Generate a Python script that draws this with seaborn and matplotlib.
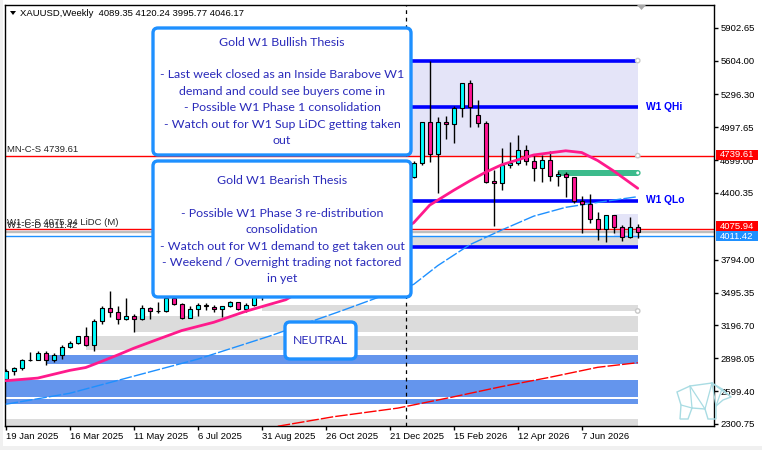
import numpy as np
import matplotlib
matplotlib.use("Agg")
import matplotlib.pyplot as plt
from matplotlib.patches import FancyBboxPatch, Rectangle, Polygon, Circle
import seaborn as sns

# weekly XAUUSD candles
opens = [2710, 2780, 2807, 2880, 2886, 2946, 2880, 2925, 2998, 3037,
         3098, 3019, 3234, 3352, 3316, 3252, 3280, 3252, 3352, 3325,
         3327, 3445, 3389, 3267, 3343, 3385, 3361, 3343, 3373, 3407,
         3343, 3380, 3452, 3540, 3590, 3640, 3685, 3760, 3886, 4018,
         4250, 4113, 4002, 4000, 4085, 4065, 4218, 4198, 4300, 4338,
         4420, 4548, 4676, 5043, 4752, 5043, 5025, 5170, 5397, 5106,
         5034, 4509, 4490, 4655, 4670, 4791, 4691, 4625, 4700, 4555,
         4573, 4543, 4327, 4300, 4161, 4070, 4197, 4088, 4003, 4089.35]
highs = [2800, 2819, 2894, 2955, 2964, 2964, 2946, 3016, 3055, 3100,
         3182, 3252, 3376, 3507, 3376, 3448, 3298, 3382, 3361, 3414,
         3470, 3480, 3403, 3373, 3398, 3398, 3385, 3375, 3421, 3412,
         3398, 3480, 3560, 3600, 3675, 3705, 3790, 3895, 4060, 4380,
         4270, 4160, 4050, 4245, 4130, 4225, 4265, 4350, 4380, 4550,
         4560, 4690, 5046, 5598, 5094, 5100, 5191, 5400, 5427, 5245,
         5055, 4609, 4806, 4861, 4927, 4837, 4746, 4746, 4785, 4603,
         4594, 4548, 4373, 4391, 4225, 4200, 4200, 4109, 4179, 4120.24]
lows = [2690, 2746, 2792, 2873, 2880, 2840, 2867, 2889, 2989, 3025,
        3012, 2967, 3207, 3270, 3207, 3250, 3134, 3246, 3252, 3314,
        3318, 3380, 3252, 3261, 3285, 3337, 3321, 3270, 3361, 3340,
        3321, 3373, 3430, 3510, 3575, 3625, 3670, 3750, 3880, 4010,
        4005, 3930, 3930, 3990, 4030, 4040, 4160, 4180, 4270, 4310,
        4400, 4536, 4655, 4685, 4403, 4888, 4852, 5094, 5003, 5003,
        4488, 4103, 4428, 4627, 4655, 4655, 4509, 4503, 4512, 4464,
        4367, 4312, 4034, 4130, 3973, 3952, 4034, 3967, 3988, 3995.77]
closes = [2782, 2807, 2880, 2884, 2946, 2880, 2925, 2998, 3037, 3098,
          3019, 3234, 3352, 3316, 3252, 3280, 3252, 3352, 3325, 3329,
          3443, 3389, 3267, 3343, 3380, 3370, 3343, 3373, 3409, 3343,
          3380, 3452, 3540, 3590, 3640, 3685, 3760, 3886, 4018, 4250,
          4113, 4002, 4000, 4085, 4065, 4218, 4198, 4300, 4338, 4420,
          4548, 4676, 5043, 4752, 5043, 5025, 5170, 5397, 5179, 5034,
          4503, 4490, 4655, 4670, 4791, 4687, 4625, 4700, 4555, 4573,
          4543, 4327, 4300, 4161, 4070, 4197, 4088, 4003, 4089.35, 4046.17]

# moving averages (read at a few bars)
ma_fast_idx = [0, 4, 8, 10, 12, 14, 16, 19, 22, 26, 30, 35, 40, 45, 51, 53,
               56, 58, 60, 62, 66, 70, 72, 74, 76, 79]
ma_fast_val = [2694, 2718, 2788, 2814, 2870, 2928, 2989, 3070, 3150, 3225,
               3325, 3430, 3640, 3870, 4130, 4290, 4425, 4510, 4590, 4657,
               4746, 4784, 4768, 4695, 4600, 4443]
ma_slow_idx = [0, 8, 15, 24, 33, 42, 51, 54, 58, 62, 66, 70, 74, 79]
ma_slow_val = [2480, 2580, 2716, 2890, 3100, 3330, 3570, 3740, 3930, 4064,
               4190, 4270, 4315, 4367]
ma_long_idx = [34, 41, 49, 56, 62, 68, 74, 79]
ma_long_val = [2280, 2367, 2445, 2548, 2641, 2725, 2816, 2858]

# zones: start bar, low, high
zone_start = [50, 76, 69, 50, 32, 16, 10, 5, -1, -1, -1]
zone_low = [4739.61, 4012, 4557, 3907, 3328, 3139, 2973, 2849, 2549, 2482, 2285]
zone_high = [5604.0, 4209, 4609, 4011.42, 3382, 3282, 3100, 2925, 2701, 2531, 2346]
zone_colors = ['#E4E4F8', '#E4E4F8', '#3CBB8C', '#DCDCDC', '#DCDCDC', '#DCDCDC',
               '#DCDCDC', '#6495ED', '#6495ED', '#6495ED', '#DCDCDC']

quarter_levels = [5604.0, 5179.0, 4325.0, 3907.0]
level_mn_cs = 4739.61
level_w1_cs = 4075.94
level_w1_cd = 4011.42
gray_levels = [4057.6, 4043.0]

price_ticks = [2300.75, 2599.40, 2898.05, 3196.70, 3495.35, 3794.00,
               4400.35, 4699.00, 4997.65, 5296.30, 5604.00, 5902.65]
date_tick_idx = [0, 8, 16, 24, 32, 40, 48, 56, 64, 72]
date_labels = ['19 Jan 2025', '16 Mar 2025', '11 May 2025', '6 Jul 2025',
               '31 Aug 2025', '26 Oct 2025', '21 Dec 2025', '15 Feb 2026',
               '12 Apr 2026', '7 Jun 2026']
year_sep_idx = 50

bull_lines = ['Gold W1 Bullish Thesis', '',
              '- Last week closed as an Inside Barabove W1',
              'demand and could see buyers come in',
              '- Possible W1 Phase 1 consolidation',
              '- Watch out for W1 Sup LiDC getting taken',
              'out']
bear_lines = ['Gold W1 Bearish Thesis', '',
              '- Possible W1 Phase 3 re-distribution',
              'consolidation',
              '- Watch out for W1 demand to get taken out',
              '- Weekend / Overnight trading not factored',
              'in yet']

sns.set_theme(style="white")
plt.rcParams['font.family'] = ['Liberation Sans', 'DejaVu Sans']

W, H = 762, 450
FS = 6.8
fig = plt.figure(figsize=(W / 100, H / 100), dpi=100, facecolor='white')


def px_rect(x0, y0, x1, y1):
    return [x0 / W, 1 - y1 / H, (x1 - x0) / W, (y1 - y0) / H]


ax = fig.add_axes(px_rect(5, 5, 714, 426))
ax.set_facecolor('white')
ax.set_xlim(-0.09, -0.09 + 709 / 8)
ax.set_ylim(2282.5, 6109)
last = len(opens) - 1

# zones
for s, lo, hi, col in zip(zone_start, zone_low, zone_high, zone_colors):
    ax.fill_between([s, last], lo, hi, color=col, lw=0, zorder=1)

# horizontal levels
ax.axhline(level_mn_cs, color='#FF0000', lw=1, zorder=2)
ax.axhline(level_w1_cs, color='#FF0000', lw=1, zorder=2)
for g in gray_levels:
    ax.axhline(g, color='#BEBEBE', lw=1, zorder=2)
ax.axhline(level_w1_cd, color='#1E90FF', lw=1, zorder=2)
ax.hlines(quarter_levels, year_sep_idx, last, color='#0000FF', lw=2.6, zorder=3)

# year separator
ax.axvline(year_sep_idx, color='black', lw=0.9, ls=(0, (3, 3)), zorder=2)

# moving averages
sns.lineplot(x=ma_long_idx, y=ma_long_val, ax=ax, color='#FF0000', lw=1,
             zorder=3, estimator=None)
ax.lines[-1].set_linestyle((0, (9, 1.5)))
sns.lineplot(x=ma_slow_idx, y=ma_slow_val, ax=ax, color='#1E90FF', lw=1,
             zorder=3, estimator=None)
ax.lines[-1].set_linestyle((0, (9, 1.5)))

# candles
idx = np.arange(len(opens))
o = np.array(opens, dtype=float)
c = np.array(closes, dtype=float)
up = c >= o
body_lo = np.minimum(o, c)
body_h = np.maximum(np.abs(c - o), 1)
ax.vlines(idx, lows, highs, color='black', lw=1, zorder=4)
ax.bar(idx[up], body_h[up], bottom=body_lo[up], width=0.55, color='#00FFFF',
       edgecolor='black', lw=0.8, zorder=5)
ax.bar(idx[~up], body_h[~up], bottom=body_lo[~up], width=0.55, color='#FF1493',
       edgecolor='black', lw=0.8, zorder=5)

sns.lineplot(x=ma_fast_idx, y=ma_fast_val, ax=ax, color='#FF1A8C', lw=2,
             zorder=6, estimator=None)

# axes
for sp in ax.spines.values():
    sp.set_color('black')
    sp.set_linewidth(1)
ax.yaxis.tick_right()
ax.set_yticks(price_ticks)
ax.set_yticklabels([f'{v:.2f}' for v in price_ticks], fontsize=FS)
ax.set_xticks(date_tick_idx)
ax.set_xticklabels(date_labels, fontsize=FS, ha='left')
ax.tick_params(axis='both', which='both', direction='out', length=3, width=1,
               color='black', labelcolor='black', pad=1.5,
               bottom=True, right=True, left=False, top=False)
ax.set_xlabel('')
ax.set_ylabel('')
ax.grid(False)


def py(price):
    return H - ax.transData.transform((0, price))[1]


def pxx(i):
    return ax.transData.transform((i, 0))[0]


# overlay in pixel coordinates
ov = fig.add_axes([0, 0, 1, 1], zorder=10)
ov.set_xlim(0, W)
ov.set_ylim(H, 0)
ov.axis('off')
ov.patch.set_alpha(0)

# window edges
ov.add_patch(Rectangle((0, 446), W, 4, color='#F0F0F0', lw=0))
ov.add_patch(Rectangle((0, 0), 3, 446, color='#F0F0F0', lw=0))

# header
ov.add_patch(Polygon([(10, 11), (16, 11), (13, 15)], closed=True, color='black', lw=0))
ov.text(20, 14, 'XAUUSD,Weekly  4089.35 4120.24 3995.77 4046.17', fontsize=FS,
        va='center', ha='left', color='black')
ov.add_patch(Polygon([(637, 5), (646, 5), (641.5, 10)], closed=True,
                     color='#A8A8A8', lw=0))

# level labels on the left
ov.text(7, py(level_mn_cs) - 1.5, 'MN-C-S 4739.61', fontsize=FS, va='bottom', ha='left')
ov.text(7, py(level_w1_cs) - 1.5, 'W1-C-S 4075.94 LiDC (M)', fontsize=FS,
        va='bottom', ha='left')
ov.text(7, py(level_w1_cd) - 5.5, 'W1-C-D 4011.42', fontsize=FS, va='bottom', ha='left')

# quarter labels
ov.text(646, py(quarter_levels[1]), 'W1 QHi', fontsize=7.4, fontweight='bold',
        color='#0000FF', va='center', ha='left')
ov.text(646, py(quarter_levels[2]) - 1, 'W1 QLo', fontsize=7.4, fontweight='bold',
        color='#0000FF', va='center', ha='left')

# anchor circles
xr = pxx(last)
for pr, ec in [(quarter_levels[0], '#C8C8C8'), (level_mn_cs, '#C8C8C8'),
               ((zone_low[2] + zone_high[2]) / 2, '#3CBB8C'), (zone_low[4], '#C8C8C8')]:
    ov.add_patch(Circle((xr, py(pr)), 2.2, fc='white', ec=ec, lw=1))

# price tags on the right (stacked so neighbouring tags do not overlap)
tag_h = 10
tags = [(level_mn_cs, '#FF0000', py(level_mn_cs) - 6),
        (level_w1_cs, '#FF0000', py(level_w1_cs) - 7.5)]
tags.append((level_w1_cd, '#1E90FF', tags[1][2] + tag_h))
for pr, col, top in tags:
    ov.add_patch(Rectangle((716, top), 42, tag_h, color=col, lw=0))
    ov.text(737, top + tag_h / 2, f'{pr:.2f}', fontsize=FS, color='white',
            ha='center', va='center')

# thesis boxes
box_font = ['Lato', 'DejaVu Sans']
text_col = '#2A2ABA'


def thesis_box(x0, y0, x1, y1, lines, first_y):
    ov.add_patch(FancyBboxPatch((x0, y0), x1 - x0, y1 - y0,
                                boxstyle='round,pad=0,rounding_size=5',
                                fc='white', ec='#1E90FF', lw=2.4))
    cx = (x0 + x1) / 2
    for k, line in enumerate(lines):
        ov.text(cx, first_y + 16.4 * k, line, fontsize=8.9, family=box_font,
                color=text_col, ha='center', va='center')


thesis_box(153, 28, 411, 155, bull_lines, 42)
thesis_box(153, 161, 411, 297, bear_lines, 180.5)
thesis_box(285, 322, 356, 359, ['NEUTRAL'], 340)

# bear watermark
bear_col = '#A9DCE3'
outline = [(677, 392), (690, 386), (712, 383), (722, 389), (731, 397), (723, 400),
           (716, 406), (716, 419), (708, 419), (705, 409), (692, 408), (688, 419),
           (680, 419), (681, 405), (677, 392)]
ov.add_patch(Polygon(outline, closed=True, fill=False, ec=bear_col, lw=1))
for a, b in [((690, 386), (692, 408)), ((690, 386), (705, 409)), ((712, 383), (705, 409)),
             ((712, 383), (716, 406)), ((722, 389), (716, 406)), ((681, 405), (692, 408)),
             ((712, 383), (731, 397))]:
    ov.plot([a[0], b[0]], [a[1], b[1]], color=bear_col, lw=0.9)

fig.savefig('out.png', dpi=100, facecolor='white')
